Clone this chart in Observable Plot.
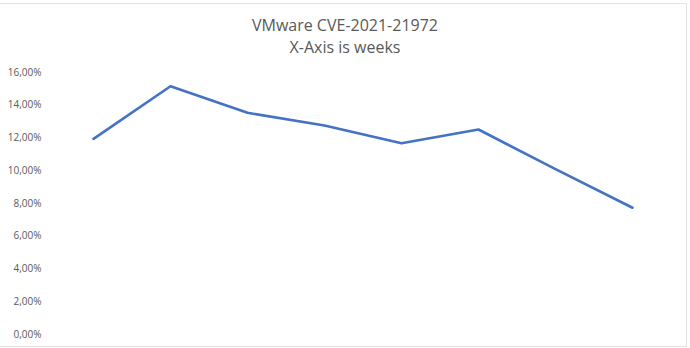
<!DOCTYPE html>
<html>
<head>
<meta charset="utf-8">
<script src="https://cdn.jsdelivr.net/npm/d3@7"></script>
<script src="https://cdn.jsdelivr.net/npm/@observablehq/plot@0.6"></script>
<style>
  html, body { margin: 0; padding: 0; background: #fff; }
  #wrap { position: relative; width: 690px; height: 348px; overflow: hidden; }
  #frame { position: absolute; left: -1px; top: 3px; width: 688px; height: 344px; border: 1px solid #e3e3e3; box-sizing: border-box; pointer-events: none; }
  #title { position: absolute; left: 0; top: 14px; width: 690px; text-align: center; font-family: "Open Sans", sans-serif; font-size: 16px; line-height: 22px; color: #595959; }
  #chart { position: absolute; left: 0; top: 0; }
</style>
</head>
<body>
<div id="wrap">
  <div id="chart"></div>
  <div id="frame"></div>
  <div id="title">VMware CVE-2021-21972<br>X-Axis is weeks</div>
</div>
<script>
const weeks = [1, 2, 3, 4, 5, 6, 7, 8];
const share = [0.1195, 0.1516, 0.1354, 0.1276, 0.1168, 0.1252, 0.1010, 0.0774];
const yTicks = [0, 0.02, 0.04, 0.06, 0.08, 0.10, 0.12, 0.14, 0.16];

const data = weeks.map((w, i) => ({week: w, value: share[i]}));

const fmt = v => (v * 100).toFixed(2).replace(".", ",") + "%";

const chart = Plot.plot({
  width: 690,
  height: 348,
  marginTop: 72,
  marginBottom: 14,
  marginLeft: 51,
  marginRight: 16,
  style: {fontFamily: "Open Sans, sans-serif", fontSize: "10px", color: "#595959", background: "transparent"},
  x: {type: "point", domain: weeks, padding: 0.5, axis: null},
  y: {domain: [0, 0.16], ticks: yTicks, tickFormat: fmt, tickSize: 0, tickPadding: 10, label: null},
  marks: [
    Plot.lineY(data, {x: "week", y: "value", stroke: "#4472C4", strokeWidth: 2.6, strokeLinejoin: "round"})
  ]
});
document.getElementById("chart").appendChild(chart);
</script>
</body>
</html>
